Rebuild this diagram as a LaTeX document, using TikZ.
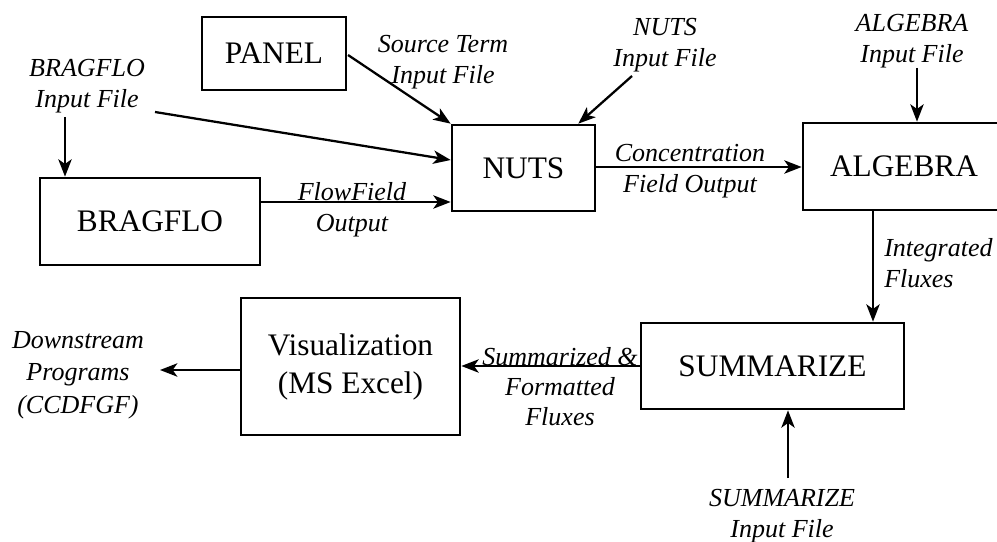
\documentclass[tikz,border=0pt]{standalone}
\usepackage{fontspec}
\setmainfont{Liberation Serif}
\usetikzlibrary{arrows.meta,calc}
\tikzset{
  box/.style={draw, line width=2pt, inner sep=0pt, align=center, font=\fontsize{23.5}{28.5}\selectfont},
  lbl/.style={inner sep=0pt, align=center, font=\fontsize{19.5}{23.5}\selectfont\itshape},
  arr/.style={line width=1.7pt, -{Stealth[length=13pt,width=10pt,inset=3.5pt]}},
}
\begin{document}
\begin{tikzpicture}[x=0.75pt,y=-0.75pt]
\useasboundingbox (0,0) rectangle (997,542);
\clip (0,0) rectangle (997,542);
\fill[white] (0,0) rectangle (997,542);
% boxes
\node[box, minimum width=108pt, minimum height=54.75pt] (panel) at (274,53.5) {PANEL};
\node[box, minimum width=165pt, minimum height=65.25pt] (brag) at (150,221.5) {BRAGFLO};
\node[box, minimum width=107.25pt, minimum height=64.5pt] (nuts) at (523.5,168) {NUTS};
\node[box, minimum width=151.5pt, minimum height=65.25pt] (alg) at (904,166.5) {ALGEBRA};
\node[box, minimum width=197.25pt, minimum height=64.5pt] (summ) at (772.5,366) {SUMMARIZE};
\node[box, minimum width=164.25pt, minimum height=102.75pt] (viz) at (350.5,366.5) {Visualization\\(MS Excel)};
% labels
\node[lbl] (lbragin) at (87,86) {BRAGFLO\\Input File};
\node[lbl] (lsrc) at (443,62) {Source Term\\Input File};
\node[lbl] (lnutsin) at (665,45) {NUTS\\Input File};
\node[lbl] (lalgin) at (912,41) {ALGEBRA\\Input File};
\node[lbl] (lflow) at (352,210) {FlowField\\Output};
\node[lbl] (lconc) at (690,171) {Concentration\\Field Output};
\node[lbl, anchor=west, align=left] (lint) at (884,263) {Integrated\\Fluxes};
\node[lbl, font=\fontsize{19.5}{22.5}\selectfont\itshape] (lsumf) at (560,387) {Summarized \&\\Formatted\\Fluxes};
\node[lbl, font=\fontsize{19.5}{24.5}\selectfont\itshape] (ldown) at (78,375) {Downstream\\Programs\\(CCDFGF)};
\node[lbl] (lsumin) at (782,516) {SUMMARIZE\\Input File};
% connector coordinates
\coordinate (bin) at (65,117);
\coordinate (bline) at (155,112);
\coordinate (pout) at (348,55);
\coordinate (ff) at (260,202);
\coordinate (nin) at (632,76);
\coordinate (ain) at (917,68);
\coordinate (x873) at (873,0);
\coordinate (ds) at (160,370);
\coordinate (sin) at (788,478);
% connectors
\draw[arr] (bin) -- (bin |- brag.north);
\draw[arr] (bline) -- ($(nuts.west)+(0,-8)$);
\draw[arr] (pout) -- (nuts.north west);
\draw[arr] (ff) -- (ff -| nuts.west);
\draw[arr] (nin) -- ($(nuts.north east)+(-18,0)$);
\draw[arr] (nuts.east |- 0,167) -- (alg.west |- 0,167);
\draw[arr] (ain) -- (ain |- alg.north);
\draw[arr] (x873 |- alg.south) -- (x873 |- summ.north);
\draw[arr] (summ.west) -- (summ.west -| viz.east);
\draw[arr] (viz.west |- ds) -- (ds);
\draw[arr] (sin) -- (sin |- summ.south);
\end{tikzpicture}
\end{document}
